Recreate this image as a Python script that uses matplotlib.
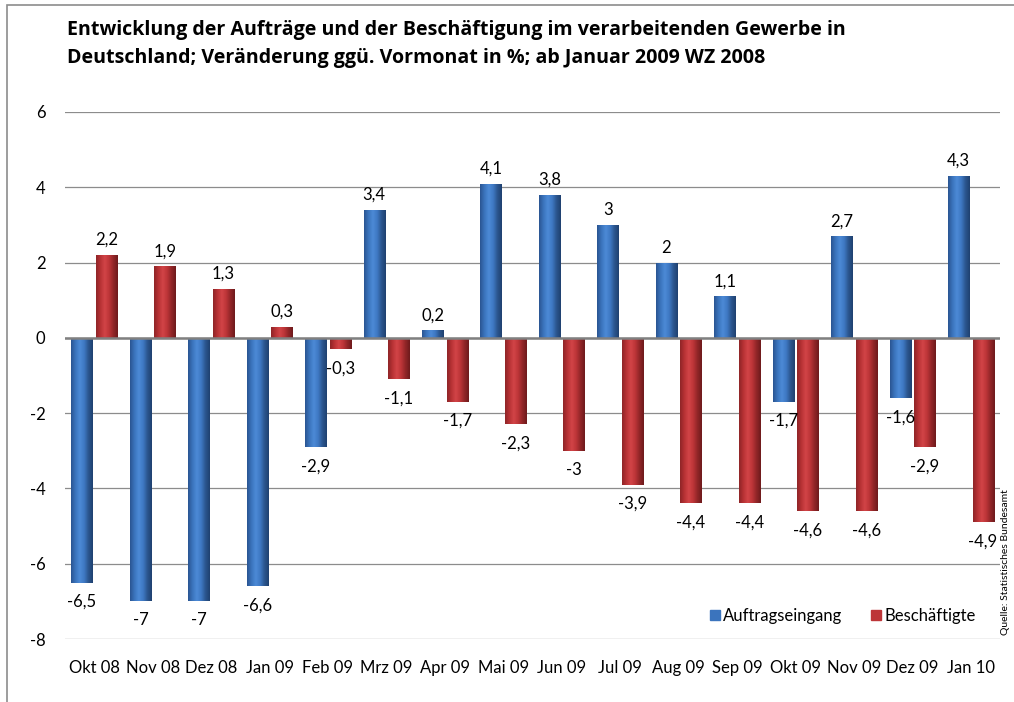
import numpy as np
import matplotlib.pyplot as plt
from matplotlib.patches import Rectangle
from matplotlib.colors import LinearSegmentedColormap

plt.rcParams['font.family'] = ['Lato', 'DejaVu Sans']

months = ['Okt 08', 'Nov 08', 'Dez 08', 'Jan 09', 'Feb 09', 'Mrz 09', 'Apr 09',
          'Mai 09', 'Jun 09', 'Jul 09', 'Aug 09', 'Sep 09', 'Okt 09', 'Nov 09',
          'Dez 09', 'Jan 10']
auftrag = [-6.5, -7, -7, -6.6, -2.9, 3.4, 0.2, 4.1, 3.8, 3, 2, 1.1, -1.7, 2.7,
           -1.6, 4.3]
beschaeft = [2.2, 1.9, 1.3, 0.3, -0.3, -1.1, -1.7, -2.3, -3, -3.9, -4.4, -4.4,
             -4.6, -4.6, -2.9, -4.9]
y_ticks = [-8, -6, -4, -2, 0, 2, 4, 6]

title_lines = ['Entwicklung der Aufträge und der Beschäftigung im verarbeitenden Gewerbe in',
               'Deutschland; Veränderung ggü. Vormonat in %; ab Januar 2009 WZ 2008']

blue_cmap = LinearSegmentedColormap.from_list(
    'b', ['#2a5592', '#3b74bd', '#4c8ad6', '#3f79c4', '#2b568f', '#1f4170'])
red_cmap = LinearSegmentedColormap.from_list(
    'r', ['#8f2527', '#b83235', '#d24447', '#bd3538', '#922628', '#6e1a1c'])


def fmt(v):
    return ('%g' % v).replace('.', ',')


def shade_bars(ax, bars, cmap):
    grad = np.linspace(0, 1, 64).reshape(1, -1)
    for b in bars:
        x0, y0 = b.get_x(), b.get_y()
        w, h = b.get_width(), b.get_height()
        im = ax.imshow(grad, cmap=cmap, aspect='auto', interpolation='bilinear',
                       extent=[x0, x0 + w, y0, y0 + h], zorder=3)
        im.set_clip_path(b)


fig = plt.figure(figsize=(10.14, 7.02), dpi=100)
ax = fig.add_axes([65 / 1014, 63 / 702, 935 / 1014, 527 / 702])

x = np.arange(len(months))
w = 0.36
off = 0.21
b1 = ax.bar(x - off, auftrag, w, color='#3b74bd', zorder=2, label='Auftragseingang')
b2 = ax.bar(x + off, beschaeft, w, color='#bd3538', zorder=2, label='Beschäftigte')
shade_bars(ax, b1, blue_cmap)
shade_bars(ax, b2, red_cmap)

for xs, vals in ((x - off, auftrag), (x + off, beschaeft)):
    for xi, v in zip(xs, vals):
        if v >= 0:
            ax.annotate(fmt(v), (xi, v), xytext=(0, 5), textcoords='offset points',
                        ha='center', va='bottom', fontsize=12, zorder=5)
        else:
            ax.annotate(fmt(v), (xi, v), xytext=(0, -8), textcoords='offset points',
                        ha='center', va='top', fontsize=12, zorder=5)

ax.set_xlim(-0.5, len(months) - 0.5)
ax.set_ylim(-8, 6)
ax.set_yticks(y_ticks)
ax.set_yticklabels([str(t) for t in y_ticks], fontsize=12)
ax.set_xticks(x)
ax.set_xticklabels(months, fontsize=12)
ax.tick_params(length=0, pad=14)
ax.tick_params(axis='x', pad=15)
ax.grid(axis='y', color='#8c8c8c', lw=0.9, zorder=0)
ax.axhline(0, color='#808080', lw=1.8, zorder=4)
for s in ax.spines.values():
    s.set_visible(False)

leg = ax.legend(loc='lower right', bbox_to_anchor=(0.99, 0.0), ncol=2, frameon=False,
                fontsize=12, handlelength=0.6, handleheight=0.6, handletextpad=0.2,
                columnspacing=1.7)
for h, c in zip(leg.legend_handles, ['#3b74bd', '#bd3538']):
    h.set_color(c)

for i, line in enumerate(title_lines):
    fig.text(67 / 1014, 1 - (30 + 28 * i) / 702, line, fontsize=14.1,
             fontweight='bold', family='Open Sans', va='center', ha='left')
fig.text(1006 / 1014, 1 - 635 / 702, 'Quelle: Statistisches Bundesamt', fontsize=7.5,
         rotation=90, ha='center', va='bottom')

fig.patches.append(Rectangle((7 / 1014, -0.05), 1.1, 1.05 - 5 / 702, transform=fig.transFigure,
                             fill=False, edgecolor='#8c8c8c', lw=1.2))

fig.savefig('out.png', dpi=100)
